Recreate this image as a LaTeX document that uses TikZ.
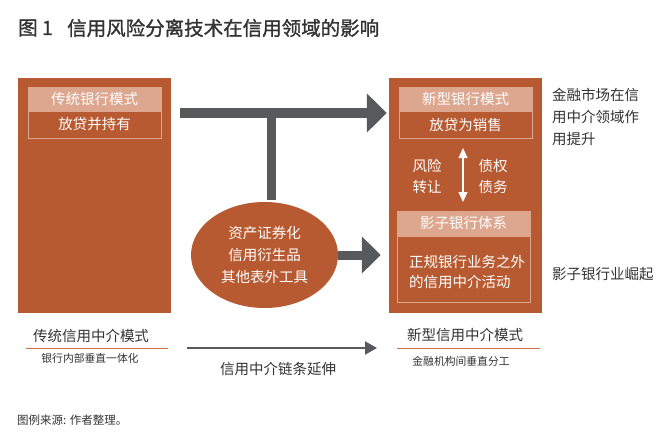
\documentclass[tikz,border=0pt]{standalone}
\usepackage{fontspec}
\setmainfont{Noto Sans CJK SC}
\newfontfamily\titlefont[FakeBold=1.2]{Noto Sans CJK SC}
\usetikzlibrary{arrows.meta,shapes.geometric}
\definecolor{rust}{HTML}{B85A31}
\definecolor{lightrust}{HTML}{DDA68E}
\definecolor{linerust}{HTML}{D0703F}
\definecolor{arrowgray}{HTML}{58595B}
\definecolor{txt}{HTML}{333333}
\begin{document}
\begin{tikzpicture}[x=1pt,y=-1pt,
  panel/.style={fill=rust, draw=none, minimum width=153pt, minimum height=235pt, inner sep=0pt},
  fnt/.style={font=\fontsize{14.5}{21}\selectfont},
  header/.style={fill=lightrust, draw=lightrust, line width=0.8pt, minimum width=133pt, minimum height=24pt, inner sep=0pt, text=white, fnt},
  subbox/.style={draw=lightrust, line width=0.8pt, minimum width=133pt, minimum height=27pt, inner sep=0pt, text=white, fnt},
  intext/.style={text=white, inner sep=0pt, fnt},
  outtext/.style={text=txt, inner sep=0pt, fnt},
  smalltext/.style={text=txt, inner sep=0pt, font=\fontsize{10.8}{13}\selectfont},
  titletext/.style={anchor=west, inner sep=0pt, text=txt, font=\titlefont\fontsize{19.5}{24}\selectfont},
  bigarrow/.style={draw=arrowgray, line width=10pt, -{Triangle[width=38pt,length=20pt]}},
  midarrow/.style={draw=arrowgray, line width=9pt, -{Triangle[width=36pt,length=19pt]}},
  thinarrow/.style={draw=arrowgray, line width=2pt, -{Triangle[width=13pt,length=12pt]}},
  underline/.style={draw=linerust, line width=1pt}
]
\useasboundingbox (0,0) rectangle (672,439);
\fill[white] (0,0) rectangle (672,439);

% title
\node[titletext] (fig) at (18,28) {图 1};
\node[titletext] (title) at (67,28) {信用风险分离技术在信用领域的影响};

% panels
\node[panel] (lp) at (94.5,195.5) {};
\node[panel] (rp) at (465.5,195.5) {};

\node[header] (lh) at (94.5,99) {传统银行模式};
\node[subbox] (ls) at (94.5,124.5) {放贷并持有};

\node[header] (rh) at (465.5,99) {新型银行模式};
\node[subbox] (rs) at (465.5,124.5) {放贷为销售};

\node[intext, align=center] (risk) at (427,176.5) {风险\\转让};
\node[intext, align=center] (debt) at (493,176.5) {债权\\债务};
\coordinate (da) at (463,148);
\coordinate (db) at (463,202);
\draw[white, line width=1.2pt, {Triangle[width=9pt,length=10pt]}-{Triangle[width=9pt,length=10pt]}] (da) -- (db);

\node[header, minimum height=25pt] (sh) at (463.5,223.5) {影子银行体系};
\node[subbox, minimum height=66pt] (sb) at (463.5,269) {};
\node[intext, align=left, anchor=west, font=\fontsize{14.5}{20}\selectfont] (sbt) at (409,272) {正规银行业务之外\\的信用中介活动};

% ellipse
\node[ellipse, fill=rust, minimum width=147pt, minimum height=106pt, inner sep=0pt] (el) at (264.5,255) {};
\node[intext, align=center, font=\fontsize{14.5}{22}\selectfont] (elt) at (264.5,255) {资产证券化\\信用衍生品\\其他表外工具};

% arrows
\coordinate (ts) at (180,113);
\draw[bigarrow, shorten >=2pt] (ts) -- (rp.west |- ts);
\draw[draw=arrowgray, line width=9pt] ([xshift=7pt,yshift=2pt]el.north) -- ([xshift=7pt]el.north |- ts);
\draw[midarrow, shorten >=8pt] (el.east) -- (rp.west |- el.east);

% right texts
\node[outtext, align=left, anchor=west, font=\fontsize{14.5}{22}\selectfont] (mkt) at (552,117) {金融市场在信\\用中介领域作\\用提升};
\node[outtext, anchor=west] (rise) at (552,274) {影子银行业崛起};

% bottom
\node[outtext] (lm) at (91,336) {传统信用中介模式};
\draw[underline] (26,348) -- (168,348);
\node[smalltext] (lmd) at (90,358) {银行内部垂直一体化};

\node[outtext] (rm) at (465,335) {新型信用中介模式};
\draw[underline] (397,348) -- (540,348);
\node[smalltext] (rmd) at (461,361) {金融机构间垂直分工};

\coordinate (ba) at (187,348);
\coordinate (bb) at (377,348);
\draw[thinarrow] (ba) -- (bb);
\node[outtext] (chain) at (278,369) {信用中介链条延伸};

\node[anchor=west, inner sep=0pt, text=txt, font=\fontsize{11.5}{14}\selectfont] (src) at (17,420) {图例来源: 作者整理。};
\end{tikzpicture}
\end{document}
